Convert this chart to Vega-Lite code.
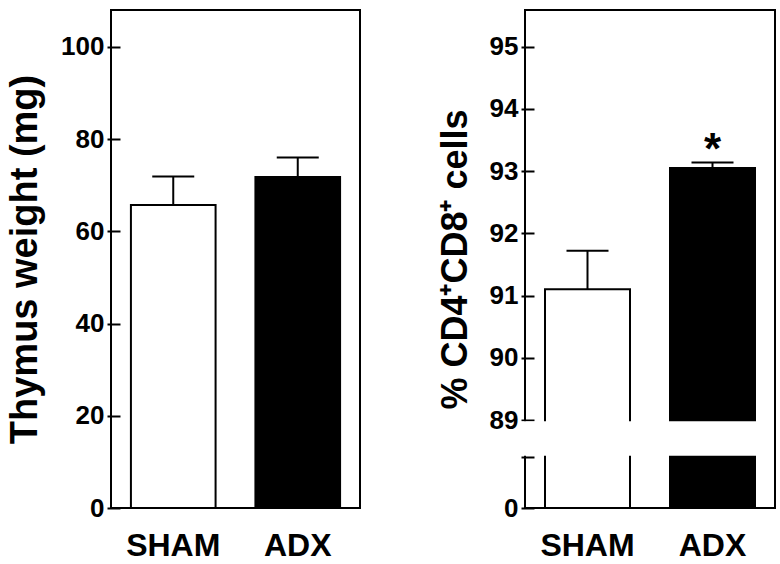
{
  "$schema": "https://vega.github.io/schema/vega-lite/v6.json",
  "padding": {"left": 5, "top": 9, "right": 5, "bottom": 0},
  "background": "white",
  "datasets": {
    "thymus": [
      {"group": "SHAM", "value": 65.7, "hi": 71.9},
      {"group": "ADX", "value": 71.8, "hi": 76.0}
    ],
    "cd48": [
      {"group": "SHAM", "value": 91.1, "hi": 91.72, "sig": ""},
      {"group": "ADX", "value": 93.05, "hi": 93.14, "sig": "*"}
    ]
  },
  "spacing": 75,
  "hconcat": [
    {
      "width": 249,
      "height": 498,
      "data": {"name": "thymus"},
      "layer": [
        {
          "mark": {"type": "bar", "stroke": "black", "strokeWidth": 2},
          "encoding": {
            "x": {"field": "group", "type": "nominal", "sort": ["SHAM", "ADX"], "title": null,
                  "scale": {"paddingInner": 0.32, "paddingOuter": 0.16}},
            "y": {"field": "value", "type": "quantitative", "title": "Thymus weight (mg)",
                  "scale": {"domain": [0, 108], "nice": false},
                  "axis": {"values": [0, 20, 40, 60, 80, 100], "minExtent": 60, "maxExtent": 60, "titlePadding": 16, "titleFontSize": 38}},
            "fill": {"field": "group", "type": "nominal", "legend": null,
                     "scale": {"domain": ["SHAM", "ADX"], "range": ["white", "black"]}}
          }
        },
        {
          "mark": {"type": "rule", "color": "black", "strokeWidth": 2},
          "encoding": {
            "x": {"field": "group", "type": "nominal", "sort": ["SHAM", "ADX"], "title": null},
            "y": {"field": "value", "type": "quantitative", "title": "Thymus weight (mg)"},
            "y2": {"field": "hi"}
          }
        },
        {
          "mark": {"type": "tick", "size": 42, "thickness": 2, "color": "black", "opacity": 1},
          "encoding": {
            "x": {"field": "group", "type": "nominal", "sort": ["SHAM", "ADX"], "title": null},
            "y": {"field": "hi", "type": "quantitative", "title": "Thymus weight (mg)"}
          }
        }
      ]
    },
    {
      "width": 250,
      "height": 498,
      "data": {"name": "cd48"},
      "layer": [
        {
          "mark": {"type": "bar", "stroke": "black", "strokeWidth": 2},
          "encoding": {
            "x": {"field": "group", "type": "nominal", "sort": ["SHAM", "ADX"], "title": null,
                  "scale": {"paddingInner": 0.32, "paddingOuter": 0.16}},
            "y": {"field": "value", "type": "quantitative", "title": "% CD4⁺CD8⁺ cells",
                  "scale": {"domain": [0, 10, 89, 95.59], "range": [498, 447, 410, 0], "nice": false, "zero": false},
                  "axis": {"values": [0, 10, 89, 90, 91, 92, 93, 94, 95], "labelExpr": "datum.value == 10 ? '' : datum.label",
                           "minExtent": 45, "maxExtent": 45, "titlePadding": 15}},
            "fill": {"field": "group", "type": "nominal", "legend": null,
                     "scale": {"domain": ["SHAM", "ADX"], "range": ["white", "black"]}}
          }
        },
        {
          "mark": {"type": "rect", "fill": "white", "strokeWidth": 0},
          "encoding": {
            "x": {"datum": "SHAM", "bandPosition": -0.294},
            "x2": {"datum": "ADX", "bandPosition": 1.19},
            "y": {"datum": 13.2, "type": "quantitative", "title": "% CD4⁺CD8⁺ cells"},
            "y2": {"datum": 85.8}
          }
        },
        {
          "mark": {"type": "rule", "color": "black", "strokeWidth": 2},
          "encoding": {
            "x": {"field": "group", "type": "nominal", "sort": ["SHAM", "ADX"], "title": null},
            "y": {"field": "value", "type": "quantitative", "title": "% CD4⁺CD8⁺ cells"},
            "y2": {"field": "hi"}
          }
        },
        {
          "mark": {"type": "tick", "size": 42, "thickness": 2, "color": "black", "opacity": 1},
          "encoding": {
            "x": {"field": "group", "type": "nominal", "sort": ["SHAM", "ADX"], "title": null},
            "y": {"field": "hi", "type": "quantitative", "title": "% CD4⁺CD8⁺ cells"}
          }
        },
        {
          "mark": {"type": "text", "fontSize": 44, "fontWeight": "bold", "baseline": "alphabetic", "dy": 2, "color": "black", "font": "Liberation Sans"},
          "encoding": {
            "x": {"field": "group", "type": "nominal", "sort": ["SHAM", "ADX"], "title": null},
            "y": {"field": "hi", "type": "quantitative", "title": "% CD4⁺CD8⁺ cells"},
            "text": {"field": "sig"}
          }
        }
      ]
    }
  ],
  "config": {
    "font": "Liberation Sans",
    "view": {"stroke": "black", "strokeWidth": 2},
    "axisY": {
      "domain": false, "grid": false, "offset": -9, "tickSize": 13, "tickWidth": 2, "tickColor": "black",
      "labelPadding": 3, "labelFont": "Liberation Sans", "labelFontWeight": "bold", "labelFontSize": 26, "labelColor": "black",
      "titleFont": "Liberation Sans", "titleFontWeight": "bold", "titleFontSize": 36, "titleColor": "black"
    },
    "axisX": {
      "domain": false, "grid": false, "ticks": false, "tickSize": 0, "labelPadding": 22, "labelAngle": 0,
      "labelFont": "Liberation Sans", "labelFontWeight": "bold", "labelFontSize": 32, "labelColor": "black"
    }
  }
}
